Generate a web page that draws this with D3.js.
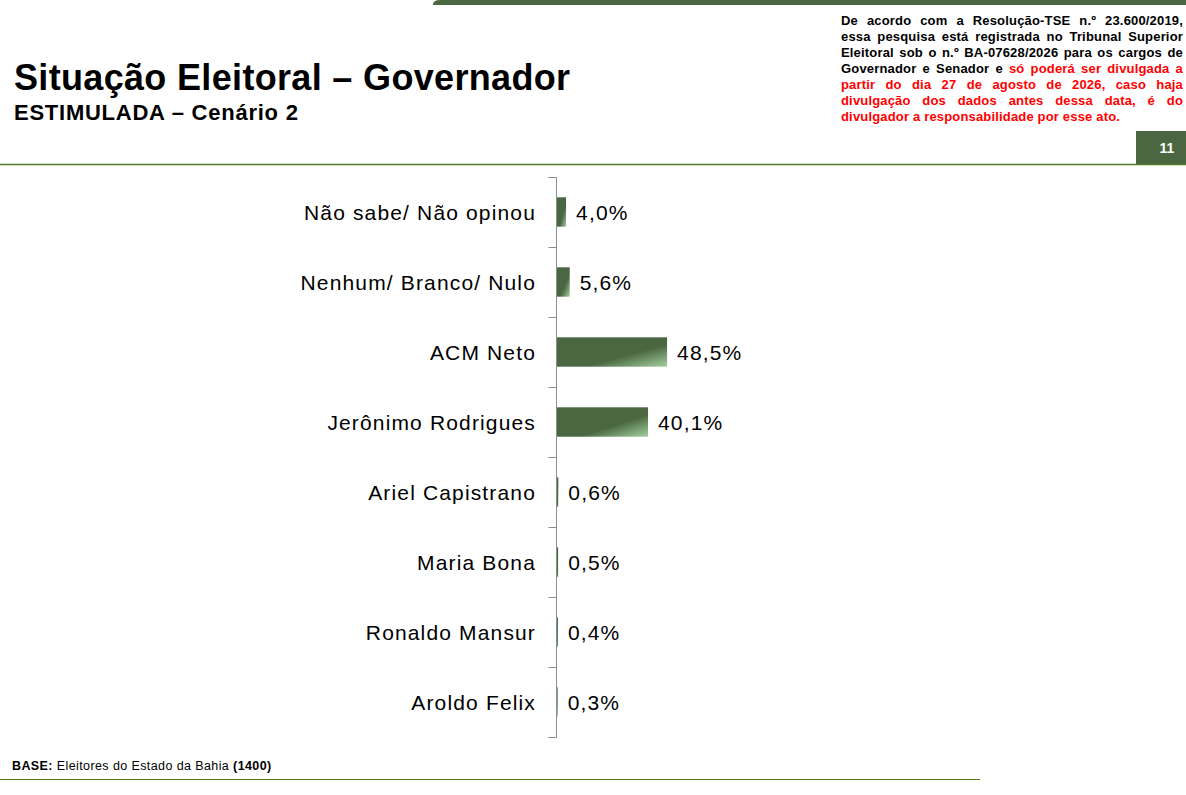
<!DOCTYPE html>
<html>
<head>
<meta charset="utf-8">
<script src="https://cdn.jsdelivr.net/npm/d3@7"></script>
<style>
  body { margin: 0; background: white; }
  svg { display: block; font-family: "Liberation Sans", Arial, sans-serif; }
</style>
</head>
<body>
<svg width="1186" height="795"></svg>
<script>
// chart data
const categories = [
  'Não sabe/ Não opinou',
  'Nenhum/ Branco/ Nulo',
  'ACM Neto',
  'Jerônimo Rodrigues',
  'Ariel Capistrano',
  'Maria Bona',
  'Ronaldo Mansur',
  'Aroldo Felix'
]
const values = [4.0, 5.6, 48.5, 40.1, 0.6, 0.5, 0.4, 0.3]

const noteLines = [
  [['De acordo com a Resolução-TSE n.º 23.600/2019,', 'black']],
  [['essa pesquisa está registrada no Tribunal Superior', 'black']],
  [['Eleitoral sob o n.º BA-07628/2026 para os cargos de', 'black']],
  [['Governador e Senador e', 'black'], ['só poderá ser divulgada a', 'red']],
  [['partir do dia 27 de agosto de 2026, caso haja', 'red']],
  [['divulgação dos dados antes dessa data, é do', 'red']],
  [['divulgador a responsabilidade por esse ato.', 'red']]
]

const green = '#4a6741'
const svg = d3.select('svg')

// gradient for bars
const grad = svg.append('defs').append('linearGradient')
  .attr('id', 'barGrad')
  .attr('x1', 0).attr('y1', 0).attr('x2', 1).attr('y2', 1)
grad.append('stop').attr('offset', '0').attr('stop-color', green)
grad.append('stop').attr('offset', '0.62').attr('stop-color', green)
grad.append('stop').attr('offset', '1').attr('stop-color', '#a3d0a0')

// header
svg.append('path')
  .attr('d', 'M433,5 Q433,0 440,0 L1186,0 L1186,5 Z')
  .attr('fill', green)

svg.append('text')
  .attr('x', 14).attr('y', 90)
  .style('font-size', '36px').style('font-weight', 'bold')
  .style('letter-spacing', '0.33px')
  .text('Situação Eleitoral – Governador')

svg.append('text')
  .attr('x', 14).attr('y', 120)
  .style('font-size', '22px').style('font-weight', 'bold')
  .style('letter-spacing', '0.75px')
  .text('ESTIMULADA – Cenário 2')

svg.append('line')
  .attr('x1', 0).attr('x2', 1186).attr('y1', 164.5).attr('y2', 164.5)
  .attr('stroke', '#4f7a28').attr('stroke-width', 1.5)

svg.append('rect')
  .attr('x', 1136).attr('y', 131).attr('width', 50).attr('height', 33)
  .attr('fill', green)
svg.append('text')
  .attr('x', 1167).attr('y', 153).attr('text-anchor', 'middle')
  .style('font-size', '14px').style('font-weight', 'bold').attr('fill', 'white')
  .text('11')

// justified legal note
const noteX = 841, noteW = 342
const note = svg.append('g')
  .style('font-size', '13px').style('font-weight', 'bold')
  .style('letter-spacing', '0.17px')
noteLines.forEach((segs, li) => {
  const y = 25 + li * 16.05
  const words = []
  segs.forEach(([txt, col]) => txt.split(' ').forEach(w => words.push([w, col])))
  const nodes = words.map(([w, col]) => note.append('text')
    .attr('y', y).attr('fill', col).text(w))
  const widths = nodes.map(n => n.node().getComputedTextLength())
  const total = d3.sum(widths)
  const last = li === noteLines.length - 1
  const gap = last ? 3.8 : (noteW - total) / (words.length - 1)
  let x = noteX
  nodes.forEach((n, i) => { n.attr('x', x); x += widths[i] + gap })
})

// chart
const x = d3.scaleLinear().domain([0, 100]).range([557, 784])
const y = d3.scaleBand().domain(categories).range([177, 737]).paddingInner(0.58).paddingOuter(0.29)

const axisY = d3.scaleLinear().domain([0, categories.length]).range([177, 737])
const axis = svg.append('g')
  .attr('transform', 'translate(556.5,0)')
  .call(d3.axisLeft(axisY).ticks(categories.length).tickSize(8).tickFormat(''))
axis.selectAll('path, line').attr('stroke', '#8a8f94')
axis.select('path').attr('d', 'M-8,177.5H0V737.5H-8')

svg.append('g').selectAll('rect')
  .data(values)
  .enter().append('rect')
  .attr('x', x(0))
  .attr('y', (d, i) => y(categories[i]))
  .attr('width', d => x(d) - x(0))
  .attr('height', y.bandwidth())
  .attr('fill', 'url(#barGrad)')

svg.append('g').selectAll('text')
  .data(values)
  .enter().append('text')
  .attr('x', d => x(d) + 10)
  .attr('y', (d, i) => y(categories[i]) + y.bandwidth() / 2)
  .attr('dy', '0.36em')
  .style('font-size', '21px').style('letter-spacing', '1.15px')
  .text(d => d.toFixed(1).replace('.', ',') + '%')

svg.append('g').selectAll('text')
  .data(categories)
  .enter().append('text')
  .attr('x', 536)
  .attr('y', d => y(d) + y.bandwidth() / 2)
  .attr('dy', '0.36em')
  .attr('text-anchor', 'end')
  .style('font-size', '21px').style('letter-spacing', '1.15px')
  .text(d => d)

// footer
const foot = svg.append('text')
  .attr('x', 12).attr('y', 770)
  .style('font-size', '12.5px').style('letter-spacing', '0.4px')
foot.append('tspan').style('font-weight', 'bold').text('BASE:')
foot.append('tspan').text(' Eleitores do Estado da Bahia ')
foot.append('tspan').style('font-weight', 'bold').text('(1400)')

svg.append('line')
  .attr('x1', 0).attr('x2', 980).attr('y1', 779.5).attr('y2', 779.5)
  .attr('stroke', '#4f7a28').attr('stroke-width', 1)
</script>
</body>
</html>
